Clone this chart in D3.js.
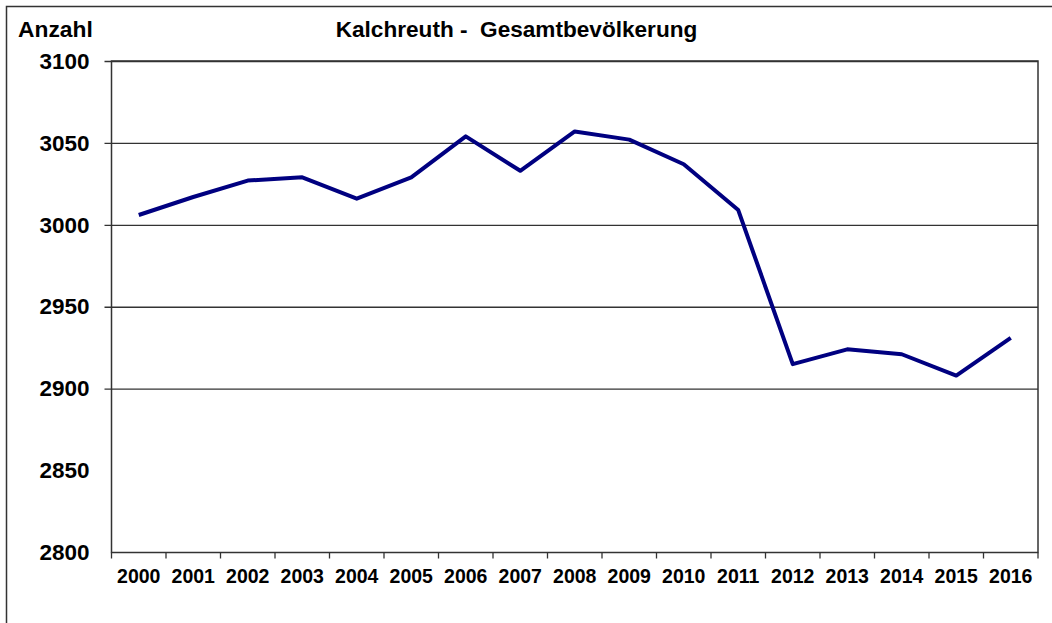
<!DOCTYPE html>
<html>
<head>
<meta charset="utf-8">
<script src="https://cdn.jsdelivr.net/npm/d3@7"></script>
<style>
  body { margin: 0; background: #fff; }
  text { font-family: Arial, "Liberation Sans", sans-serif; font-weight: bold; fill: #000; }
</style>
</head>
<body>
<div id="chart-area"></div>
<script>
// data
const years = ["2000", "2001", "2002", "2003", "2004", "2005", "2006", "2007", "2008",
  "2009", "2010", "2011", "2012", "2013", "2014", "2015", "2016"]
const population = [3006, 3017, 3027, 3029, 3016, 3029, 3054, 3033, 3057,
  3052, 3037, 3009, 2915, 2924, 2921, 2908, 2931]
const yTicks = [3100, 3050, 3000, 2950, 2900, 2850, 2800]
const gridValues = [3050, 3000, 2950, 2900]

// canvas and margin sizes
const W_TOTAL = 1052, H_TOTAL = 623
const MARGIN = { LEFT: 111.5, RIGHT: 14, TOP: 61, BOTTOM: 70.5 }
const WIDTH = W_TOTAL - MARGIN.LEFT - MARGIN.RIGHT
const HEIGHT = H_TOTAL - MARGIN.TOP - MARGIN.BOTTOM

const svg = d3.select("#chart-area").append("svg")
  .attr("width", W_TOTAL)
  .attr("height", H_TOTAL)

// outer frame (cut off at right and bottom)
svg.append("rect")
  .attr("x", 6.5).attr("y", 6.5)
  .attr("width", W_TOTAL + 20).attr("height", H_TOTAL + 20)
  .attr("fill", "none")
  .attr("stroke", "#333")
  .attr("stroke-width", 1.5)

// title and y label
svg.append("text")
  .attr("x", 516.5)
  .attr("y", 37)
  .attr("font-size", "22.6px")
  .attr("text-anchor", "middle")
  .style("white-space", "pre")
  .text("Kalchreuth -  Gesamtbevölkerung")

svg.append("text")
  .attr("x", 18)
  .attr("y", 37)
  .attr("font-size", "22.8px")
  .text("Anzahl")

const g = svg.append("g")
  .attr("transform", `translate(${MARGIN.LEFT}, ${MARGIN.TOP})`)

const x = d3.scaleBand()
  .domain(years)
  .range([0, WIDTH])

const y = d3.scaleLinear()
  .domain([2800, 3100])
  .range([HEIGHT, 0])

// gridlines with small ticks left of the axis
const gridGroup = g.append("g")
  .attr("transform", "translate(-7, 0)")
  .call(d3.axisLeft(y).tickValues(gridValues.concat([3100])).tickSize(-(WIDTH + 7)).tickFormat(""))
gridGroup.select(".domain").remove()
gridGroup.selectAll("line")
  .attr("stroke", "#333")
  .attr("stroke-width", 1.3)

// plot frame
g.append("rect")
  .attr("x", 0).attr("y", 0)
  .attr("width", WIDTH).attr("height", HEIGHT)
  .attr("fill", "none")
  .attr("stroke", "#333")
  .attr("stroke-width", 1.5)

// y labels
const yAxisGroup = g.append("g")
  .call(d3.axisLeft(y).tickValues(yTicks).tickSize(0).tickPadding(22).tickFormat(d3.format("d")))
yAxisGroup.select(".domain").remove()
yAxisGroup.selectAll("text")
  .attr("font-size", "22.5px")
  .attr("font-family", "Arial, 'Liberation Sans', sans-serif")
  .attr("font-weight", "bold")
  .attr("fill", "#000")

// x labels
const xAxisGroup = g.append("g")
  .attr("transform", `translate(0, ${HEIGHT})`)
  .call(d3.axisBottom(x).tickSize(0).tickPadding(17))
xAxisGroup.select(".domain").remove()
xAxisGroup.selectAll("text")
  .attr("font-size", "19.5px")
  .attr("font-family", "Arial, 'Liberation Sans', sans-serif")
  .attr("font-weight", "bold")
  .attr("fill", "#000")

// x tick marks between categories
g.selectAll(".xtick")
  .data(years.map(d => x(d)).concat([WIDTH]))
  .enter().append("line")
  .attr("class", "xtick")
  .attr("x1", d => d).attr("x2", d => d)
  .attr("y1", HEIGHT).attr("y2", HEIGHT + 6)
  .attr("stroke", "#333")
  .attr("stroke-width", 1.3)

// population line
const line = d3.line()
  .x((d, i) => x(years[i]) + x.bandwidth() / 2)
  .y(d => y(d))

g.append("path")
  .datum(population)
  .attr("d", line)
  .attr("fill", "none")
  .attr("stroke", "#000080")
  .attr("stroke-width", 4)
  .attr("stroke-linejoin", "round")
</script>
</body>
</html>
